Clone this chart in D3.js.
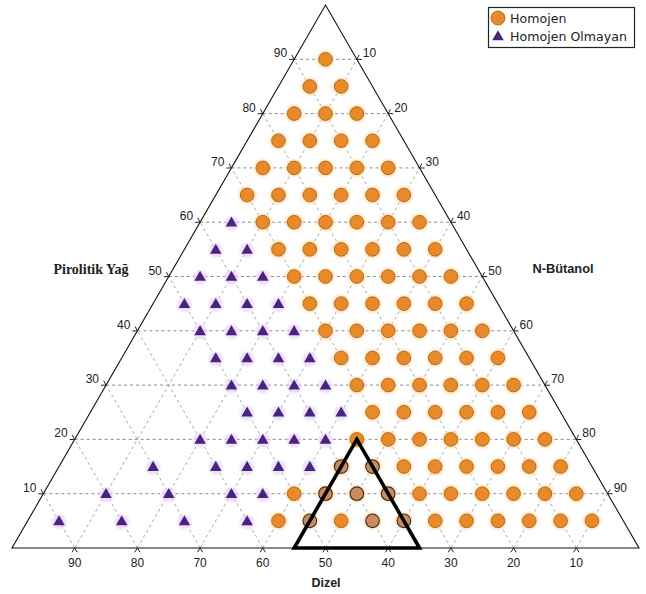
<!DOCTYPE html>
<html>
<head>
<meta charset="utf-8">
<script src="https://cdn.jsdelivr.net/npm/d3@7/dist/d3.min.js"></script>
<style>
  html, body { margin: 0; padding: 0; background: #fff; }
  svg { display: block; }
</style>
</head>
<body>
<svg id="chart" width="646" height="594"></svg>
<script>
// Ternary diagram: Pirolitik Yağ (apex), Dizel (bottom-left), N-Bütanol (bottom-right)
// Each row: Pirolitik Yağ level and the Dizel levels observed at it (N-Bütanol = 100 - both)
const homojenRows = [
  [90, [5]],
  [85, [10, 5]],
  [80, [15, 10, 5]],
  [75, [20, 15, 10, 5]],
  [70, [25, 20, 15, 10, 5]],
  [65, [30, 25, 20, 15, 10, 5]],
  [60, [30, 25, 20, 15, 10, 5]],
  [55, [30, 25, 20, 15, 10, 5]],
  [50, [30, 25, 20, 15, 10, 5]],
  [45, [30, 25, 20, 15, 10, 5]],
  [40, [30, 25, 20, 15, 10, 5]],
  [35, [30, 25, 20, 15, 10, 5]],
  [30, [30, 25, 20, 15, 10, 5]],
  [25, [30, 25, 20, 15, 10, 5]],
  [20, [35, 30, 25, 20, 15, 10, 5]],
  [15, [30, 25, 20, 15, 10, 5]],
  [10, [50, 30, 25, 20, 15, 10, 5]],
  [5,  [55, 45, 30, 25, 20, 15, 10, 5]]
];
// Homojen blends inside the marked region (drawn in a muted tone)
const secilenRows = [
  [15, [40, 35]],
  [10, [45, 40, 35]],
  [5,  [50, 40, 35]]
];
const homojenOlmayanRows = [
  [60, [35]],
  [55, [40, 35]],
  [50, [45, 40, 35]],
  [45, [50, 45, 40, 35]],
  [40, [50, 45, 40, 35]],
  [35, [50, 45, 40, 35]],
  [30, [50, 45, 40, 35]],
  [25, [50, 45, 40, 35]],
  [20, [60, 55, 50, 45, 40]],
  [15, [70, 60, 55, 50, 45]],
  [10, [80, 70, 60, 55]],
  [5,  [90, 80, 70, 60]]
];
// Marked region corners as [Pirolitik Yağ, Dizel]
const bolge = [[0, 55], [0, 35], [20, 35]];
const tickValues = [10, 20, 30, 40, 50, 60, 70, 80, 90];
const legendItems = ["Homojen", "Homojen Olmayan"];

const svg = d3.select("#chart");
const x0 = 12, x1 = 639, yBase = 548;
const side = x1 - x0;
const h = side * Math.sqrt(3) / 2;

const yScale = d3.scaleLinear().domain([0, 100]).range([yBase, yBase - h]);
const xScale = d3.scaleLinear().domain([0, 100]).range([x0, x1]);

// p = Pirolitik Yağ, d = Dizel, b = N-Bütanol
function pt(p, d) {
  const b = 100 - p - d;
  return [xScale(b + p / 2), yScale(p)];
}
const flatten = rows => rows.flatMap(([p, ds]) => ds.map(d => ({ p, d })));

const defs = svg.append("defs");
defs.append("filter").attr("id", "halo").attr("x", "-50%").attr("y", "-50%")
  .attr("width", "200%").attr("height", "200%")
  .append("feGaussianBlur").attr("stdDeviation", 1.3);

// Grid lines
const grid = svg.append("g").attr("fill", "none").attr("stroke-dasharray", "3,3").attr("stroke-width", 1);
tickValues.forEach(v => {
  // constant Pirolitik Yağ (horizontal)
  let a = pt(v, 100 - v), c = pt(v, 0);
  grid.append("line").attr("x1", a[0]).attr("y1", a[1]).attr("x2", c[0]).attr("y2", c[1]).attr("stroke", "#8a8a8a");
  // constant Dizel
  a = pt(0, v); c = pt(100 - v, v);
  grid.append("line").attr("x1", a[0]).attr("y1", a[1]).attr("x2", c[0]).attr("y2", c[1]).attr("stroke", "#a8a8a8");
  // constant N-Bütanol
  a = pt(0, 100 - v); c = pt(100 - v, 0);
  grid.append("line").attr("x1", a[0]).attr("y1", a[1]).attr("x2", c[0]).attr("y2", c[1]).attr("stroke", "#a8a8a8");
});

// Outer triangle
const corners = [pt(0, 100), pt(0, 0), pt(100, 0)];
svg.append("path")
  .attr("d", d3.line()(corners) + "Z")
  .attr("fill", "none").attr("stroke", "#111").attr("stroke-width", 1.1);

// Ticks: small chevrons pointing away from the triangle
function chevron(px, py, angDeg) {
  const L = 5;
  const a1 = (angDeg - 32) * Math.PI / 180, a2 = (angDeg + 32) * Math.PI / 180;
  return `M${px + L * Math.cos(a1)},${py + L * Math.sin(a1)}L${px},${py}L${px + L * Math.cos(a2)},${py + L * Math.sin(a2)}`;
}
const ticks = svg.append("g").attr("fill", "none").attr("stroke", "#222").attr("stroke-width", 1);
const labels = svg.append("g").attr("font-family", "Arial, 'Liberation Sans', sans-serif")
  .attr("font-size", 12).attr("fill", "#222");
tickValues.forEach(v => {
  // Pirolitik Yağ on the left edge
  let [px, py] = pt(v, 100 - v);
  ticks.append("path").attr("d", chevron(px, py, 210));
  labels.append("text").attr("x", px - 7).attr("y", py - 2).attr("text-anchor", "end").text(v);
  // N-Bütanol on the right edge
  [px, py] = pt(100 - v, 0);
  ticks.append("path").attr("d", chevron(px, py, -30));
  labels.append("text").attr("x", px + 6).attr("y", py - 2).attr("text-anchor", "start").text(v);
  // Dizel on the base
  [px, py] = pt(0, v);
  ticks.append("path").attr("d", chevron(px, py, 90));
  labels.append("text").attr("x", px).attr("y", py + 19).attr("text-anchor", "middle").text(v);
});

// Axis titles
svg.append("text").attr("x", 91).attr("y", 274).attr("text-anchor", "middle")
  .attr("font-family", "'Liberation Serif', 'Times New Roman', serif").attr("font-weight", "bold")
  .attr("font-size", 14).attr("fill", "#222").text("Pirolitik Yağ");
svg.append("text").attr("x", 563).attr("y", 273).attr("text-anchor", "middle")
  .attr("font-family", "Arial, 'Liberation Sans', sans-serif").attr("font-weight", "bold")
  .attr("font-size", 12.8).attr("fill", "#222").text("N-Bütanol");
svg.append("text").attr("x", 326).attr("y", 587).attr("text-anchor", "middle")
  .attr("font-family", "Arial, 'Liberation Sans', sans-serif").attr("font-weight", "bold")
  .attr("font-size", 12.5).attr("fill", "#222").text("Dizel");

const orangeFill = "#E8892A", orangeStroke = "#B46A1E";
const purpleFill = "#4A2382";
const triPath = d3.symbol().type(d3.symbolTriangle).size(58);

// Soft halos behind markers
const halo = svg.append("g").attr("filter", "url(#halo)");
flatten(homojenRows).concat(flatten(secilenRows)).forEach(({ p, d }) => {
  const [cx, cy] = pt(p, d);
  halo.append("circle").attr("cx", cx).attr("cy", cy).attr("r", 9).attr("fill", "#FCDDB0").attr("opacity", 0.8);
});
flatten(homojenOlmayanRows).forEach(({ p, d }) => {
  const [cx, cy] = pt(p, d);
  halo.append("circle").attr("cx", cx).attr("cy", cy + 1).attr("r", 7.5).attr("fill", "#E6D6F2").attr("opacity", 0.7);
});

// Homojen
svg.append("g").selectAll("circle").data(flatten(homojenRows)).join("circle")
  .attr("cx", o => pt(o.p, o.d)[0]).attr("cy", o => pt(o.p, o.d)[1]).attr("r", 6.8)
  .attr("fill", orangeFill).attr("stroke", orangeStroke).attr("stroke-width", 1);
svg.append("g").selectAll("circle").data(flatten(secilenRows)).join("circle")
  .attr("cx", o => pt(o.p, o.d)[0]).attr("cy", o => pt(o.p, o.d)[1]).attr("r", 6.8)
  .attr("fill", "#CC8C5E").attr("stroke", "#3B2A22").attr("stroke-width", 1.1);

// Homojen Olmayan
svg.append("g").selectAll("path").data(flatten(homojenOlmayanRows)).join("path")
  .attr("d", triPath)
  .attr("transform", o => { const [cx, cy] = pt(o.p, o.d); return `translate(${cx},${cy + 1})`; })
  .attr("fill", purpleFill);

// Marked region
svg.append("path")
  .attr("d", d3.line()(bolge.map(([p, d]) => pt(p, d))) + "Z")
  .attr("fill", "none").attr("stroke", "#000").attr("stroke-width", 3.6).attr("stroke-linejoin", "miter");

// Legend
const lg = svg.append("g");
lg.append("rect").attr("x", 488.5).attr("y", 7.5).attr("width", 146).attr("height", 40)
  .attr("fill", "#fff").attr("stroke", "#222").attr("stroke-width", 1.2);
lg.append("circle").attr("cx", 498).attr("cy", 18).attr("r", 7).attr("fill", orangeFill).attr("stroke", orangeStroke);
lg.append("path").attr("d", triPath).attr("transform", "translate(498,37)").attr("fill", purpleFill);
legendItems.forEach((t, i) => {
  lg.append("text").attr("x", 510).attr("y", 23 + i * 18)
    .attr("font-family", "'DejaVu Sans', Verdana, sans-serif").attr("font-size", 12.6)
    .attr("fill", "#222").text(t);
});
</script>
</body>
</html>
